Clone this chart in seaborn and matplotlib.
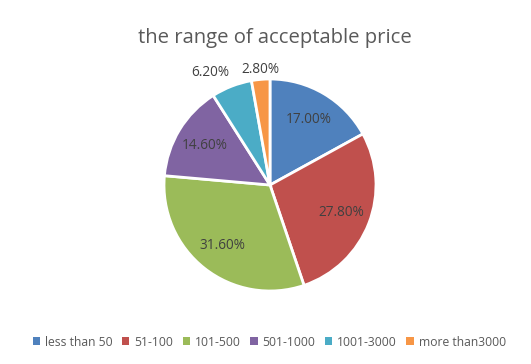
import matplotlib

matplotlib.use("Agg")

import matplotlib.pyplot as plt
import numpy as np
import seaborn as sns

categories = ["less than 50", "51-100", "101-500", "501-1000", "1001-3000", "more than3000"]
shares = [17.0, 27.8, 31.6, 14.6, 6.2, 2.8]
colors = ["#4F81BD", "#C0504D", "#9BBB59", "#8064A2", "#4BACC6", "#F79646"]
title = "the range of acceptable price"

sns.set_theme(style="white")
plt.rcParams['font.family'] = ['Open Sans', 'DejaVu Sans']
text_gray = "#595959"

fig = plt.figure(figsize=(5.31, 3.64), dpi=100)
# pie centre ~ (270, 185) px, radius ~106 px
ax = fig.add_axes([(270 - 106) / 531, (364 - 185 - 106) / 364, 212 / 531, 212 / 364])

wedges, texts, autotexts = ax.pie(
    shares,
    colors=sns.color_palette(colors),
    startangle=90,
    counterclock=False,
    autopct="%.2f%%",
    pctdistance=0.72,
    wedgeprops=dict(edgecolor="white", linewidth=2),
    textprops=dict(color="#404040", fontsize=9.8),
)
ax.set_xlim(-1, 1)
ax.set_ylim(-1, 1)
ax.axis("off")

# small slices get their labels outside the pie: (angle in degrees, radius)
outer = {4: (118, 1.2), 5: (95, 1.09)}
for i, (ang, r) in outer.items():
    a = np.deg2rad(ang)
    autotexts[i].set_position((r * np.cos(a), r * np.sin(a)))

fig.text(0.518, 1 - 38 / 364, title, ha="center", va="center", fontsize=14.6, color=text_gray)

leg = fig.legend(
    wedges, categories,
    loc="center", bbox_to_anchor=(0.507, 1 - 342 / 364),
    ncol=6, frameon=False, fontsize=8.7,
    handlelength=0.6, handleheight=0.6, handletextpad=0.4, columnspacing=0.8,
)
for txt in leg.get_texts():
    txt.set_color(text_gray)
for h in leg.legend_handles:
    h.set_edgecolor("none")

fig.savefig("out.png", dpi=100)
